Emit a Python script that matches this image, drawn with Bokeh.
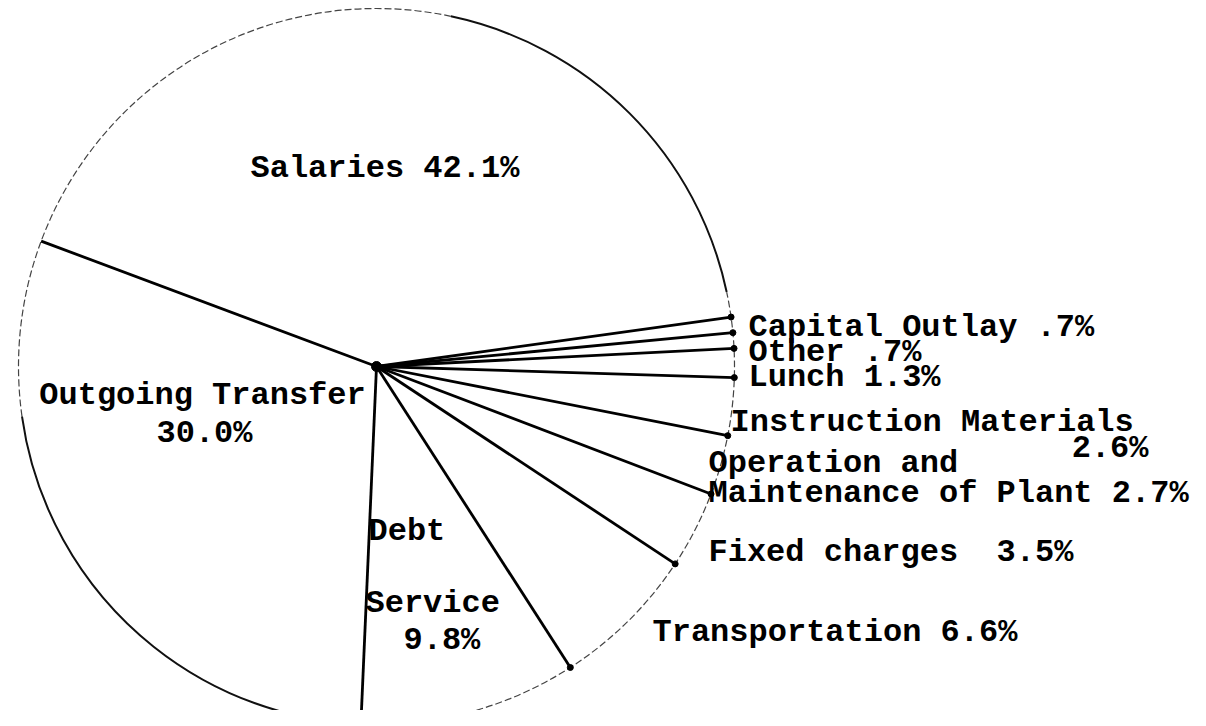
import numpy as np
from bokeh.plotting import figure
from bokeh.models import Range1d, ColumnDataSource
from bokeh.core.properties import value
from bokeh.embed import file_html
from bokeh.resources import INLINE

# ---- data (counter-clockwise order, starting at the upper-left spoke) ----
categories = ["Outgoing Transfer", "Debt Service", "Transportation", "Fixed charges",
              "Operation and Maintenance of Plant", "Instruction Materials", "Lunch",
              "Other", "Capital Outlay", "Salaries"]
shares = [30.0, 9.8, 6.6, 3.5, 2.7, 2.6, 1.3, 0.7, 0.7, 42.1]

# label text lines (as typed on the original)
label_text = ["Salaries 42.1%", "Outgoing Transfer", "30.0%", "Debt", "Service", "9.8%",
              "Capital Outlay .7%", "Other .7%", "Lunch 1.3%", "Instruction Materials",
              "2.6%", "Operation and", "Maintenance of Plant 2.7%",
              "Fixed charges \u00a03.5%", "Transportation 6.6%"]

# ---- layout / style (screen pixel positions) ----
label_x = [250, 202, 204, 368, 365, 403, 748, 748, 748, 730, 1148, 708, 708, 708, 652]
label_y = [168, 395, 433, 531, 603, 640, 327, 352, 377, 422, 448, 463, 493, 552, 632]
label_align = ["left", "center", "center", "left", "left", "left", "left", "left", "left",
               "left", "right", "left", "left", "left", "left"]

CX, CY, R = 376, 366, 358
START = 159.5
FONT = "Liberation Mono"

vals = np.array(shares, dtype=float)
ends_deg = START + 360.0 * np.cumsum(vals) / vals.sum()
starts_deg = np.concatenate([[START], ends_deg[:-1]])
ends = np.deg2rad(ends_deg)
starts = np.deg2rad(starts_deg)

p = figure(width=1190, height=710, x_range=Range1d(0, 1190), y_range=Range1d(-710, 0),
           x_axis_type=None, y_axis_type=None, toolbar_location=None,
           output_backend="svg", min_border=0)
p.outline_line_color = None
p.grid.visible = False
p.background_fill_color = "white"

# slices
src = ColumnDataSource(dict(cat=categories, share=shares, start=starts, end=ends))
p.wedge(x=CX, y=-CY, radius=R, start_angle="start", end_angle="end",
        fill_color="white", line_color=None, source=src)

# circle outline (scanned look: solid parts and faint dashed parts)
solid_a = np.deg2rad([12, 188])
solid_b = np.deg2rad([78, 275])
dash_a = np.deg2rad([78, 275])
dash_b = np.deg2rad([188, 372])
p.arc(x=[CX, CX], y=[-CY, -CY], radius=R, start_angle=solid_a, end_angle=solid_b,
      line_color="#111111", line_width=2)
p.arc(x=[CX, CX], y=[-CY, -CY], radius=R, start_angle=dash_a, end_angle=dash_b,
      line_color="#444444", line_width=1.2, line_dash="7 3")

# spokes
p.ray(x=[CX] * len(ends), y=[-CY] * len(ends), length=R, angle=ends,
      line_color="black", line_width=2.8)

# dots at rim ends of the small-slice spokes
p.scatter(CX + R * np.cos(ends[1:9]), -CY + R * np.sin(ends[1:9]), size=6, color="black")
p.scatter([CX], [-CY], size=10, color="black")

# labels
for al in ["left", "center", "right"]:
    idx = [i for i, a in enumerate(label_align) if a == al]
    p.text(x=[label_x[i] for i in idx], y=[-label_y[i] for i in idx],
           text=[label_text[i] for i in idx], text_align=al, text_baseline="alphabetic",
           text_font=value(FONT), text_font_style="bold", text_font_size="32px",
           text_color="black")

open("out.html", "w").write(file_html(p, INLINE))
